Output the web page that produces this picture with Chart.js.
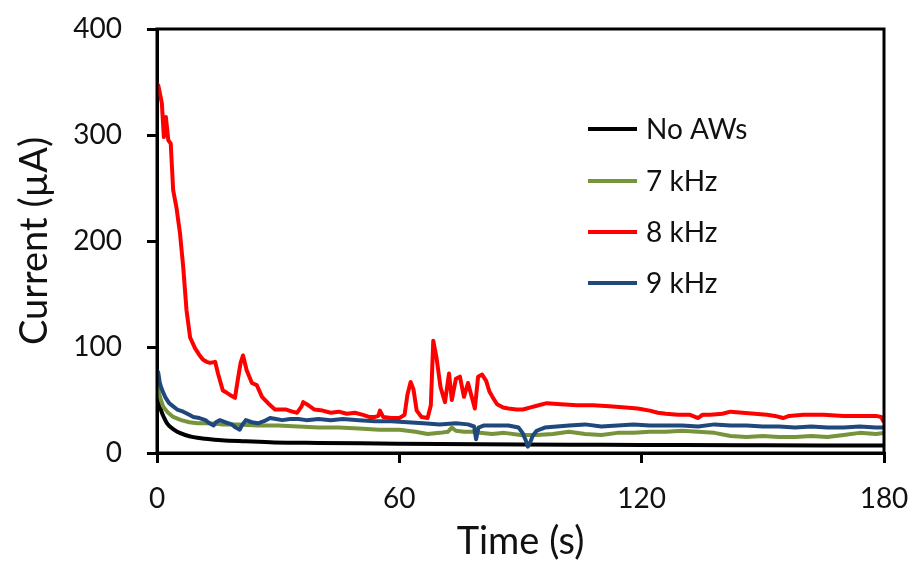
<!DOCTYPE html>
<html>
<head>
<meta charset="utf-8">
<title>Current vs time</title>
<script src="https://cdn.jsdelivr.net/npm/chart.js@4.4.1/dist/chart.umd.min.js"></script>
<style>
  html, body { margin: 0; padding: 0; background: #fff; }
  #wrap { width: 917px; height: 565px; }
</style>
</head>
<body>
<div id="wrap"><canvas id="currentChart" width="917" height="565"></canvas></div>
<script>
// series labels (legend order)
var seriesNames = ['No AWs', '7 kHz', '8 kHz', '9 kHz'];
var seriesColors = ['#000000', '#77933C', '#FF0000', '#1F497D'];

// axis ticks
var timeTicks = [0, 60, 120, 180];
var currentTicks = [0, 100, 200, 300, 400];

// No AWs
var noAwT = [0, 0.3, 0.7, 1.2, 1.8, 2.5, 3.5, 5, 7, 9, 12, 16, 22, 29, 40, 55, 70, 90, 110, 130, 150, 180];
var noAwI = [58, 53, 45, 38, 33, 28, 24, 20, 17, 15, 13.5, 12, 11, 10, 9.5, 9, 8.5, 8, 7.8, 7.5, 7.3, 7];

// 7 kHz
var k7T = [
  0, 0.3, 0.8, 1.5, 2.5, 4, 6, 8, 10, 13,
  16, 20, 25, 30, 35, 40, 45, 50, 55, 60,
  64, 67, 70, 72, 73, 74, 76, 78, 80, 83,
  86, 90, 94, 98, 102, 106, 110, 114, 118, 122,
  126, 130, 134, 138, 142, 146, 150, 154, 158, 162,
  166, 170, 174, 178, 180
];
var k7I = [
  64, 60, 52, 44, 39, 34, 31, 29, 28, 28,
  27, 27, 26, 26, 25, 24, 24, 23, 22, 22,
  20, 18, 19, 20, 24, 21, 20, 20, 19, 18,
  19, 17, 17, 18, 20, 18, 17, 19, 19, 20,
  20, 21, 20, 19, 16, 15, 16, 15, 15, 16,
  15, 17, 19, 18, 19
];

// 8 kHz
var k8T = [
  0, 0.3, 1.2, 1.7, 2.2, 2.8, 3.4, 4.0, 4.8, 5.7,
  6.5, 7.3, 8.2, 9.4, 10.4, 11.4, 12.3, 13.1, 14.4, 15.1,
  16.3, 17.2, 18, 19.3, 20, 20.7, 21.3, 22.2, 23.5, 24.7,
  26, 27.5, 29.2, 30.5, 32, 33.5, 34.7, 35.8, 36.2, 37.5,
  39, 41, 43, 45, 47, 49, 51, 52.5, 54, 54.8,
  55.2, 56, 58, 60, 61.3, 62, 62.8, 63.5, 64.3, 65.5,
  67, 67.8, 68.4, 69.2, 70.2, 71.3, 72.3, 73.0, 74.0, 75.0,
  76.0, 77.0, 78.7, 79.5, 80.5, 81.5, 82.3, 83.2, 84.2, 85.7,
  87, 89, 90.6, 92.5, 94.5, 96.5, 100, 104, 108, 112,
  116, 119, 122, 124, 126, 129, 132, 134, 135, 137,
  140, 142, 145, 148, 151, 153, 155, 156.5, 160, 165,
  170, 175, 178, 179.3, 180
];
var k8I = [
  348, 347, 330, 298, 317, 295, 292, 248, 232, 207,
  175, 135, 109, 99, 93, 88, 86, 85, 86, 75,
  59, 57, 55, 52, 69, 85, 92, 78, 66, 64,
  53, 47, 41, 41, 41, 39, 38, 44, 48, 45,
  41, 40, 38, 39, 37, 38, 36, 34, 34, 35,
  40, 34, 33, 33, 36, 55, 67, 60, 40, 34,
  33, 45, 106, 90, 62, 48, 75, 50, 70, 72,
  53, 66, 42, 72, 74, 68, 58, 52, 46, 43,
  42, 41, 41, 43, 45, 47, 46, 45, 45, 44,
  43, 42, 40, 38, 37, 36, 36, 33, 36, 36,
  37, 39, 38, 37, 36, 35, 33, 35, 36, 36,
  35, 35, 35, 34, 29
];

// 9 kHz
var k9T = [
  0, 0.3, 0.7, 1.2, 2, 3, 4, 5, 6.5, 8,
  9, 10.5, 12, 13, 14, 14.6, 15.6, 17, 18.5, 19.5,
  20.5, 21, 22, 23.5, 25, 26.5, 28, 29.5, 31, 33,
  35, 37, 40, 43, 46, 50, 54, 58, 62, 66,
  70, 74, 77, 78.5, 79, 79.6, 81, 84, 87, 89.5,
  90.5, 91.3, 91.8, 92.4, 93, 94, 96, 99, 102, 106,
  110, 114, 118, 122, 126, 130, 134, 138, 142, 146,
  150, 154, 158, 162, 166, 170, 174, 178, 180
];
var k9I = [
  78, 76, 66, 60, 53, 47, 44, 41, 39, 36,
  34, 33, 31, 28, 26, 29, 31, 29, 27, 24,
  22, 26, 31, 29, 28, 30, 33, 32, 31, 32,
  32, 31, 32, 31, 32, 31, 30, 30, 29, 28,
  27, 28, 27, 25, 13, 24, 26, 26, 26, 24,
  19, 12, 6, 10, 16, 21, 24, 25, 26, 27,
  25, 26, 27, 26, 26, 26, 25, 27, 26, 26,
  25, 25, 24, 25, 24, 24, 25, 24, 24
];

function pairs(t, v) {
  var out = [];
  for (var i = 0; i < t.length; i++) {
    out.push({ x: t[i], y: v[i] });
  }
  return out;
}

var seriesData = [pairs(noAwT, noAwI), pairs(k7T, k7I), pairs(k8T, k8I), pairs(k9T, k9I)];

Chart.defaults.font.family = 'Lato, "Open Sans", sans-serif';
Chart.defaults.color = '#111';

// box round the plot area
var frame = {
  id: 'frame',
  afterDatasetsDraw: function (chart) {
    var a = chart.chartArea, ctx = chart.ctx;
    ctx.save();
    ctx.strokeStyle = '#000';
    ctx.lineWidth = 3;
    ctx.strokeRect(a.left, a.top, a.right - a.left, a.bottom - a.top);
    ctx.restore();
  }
};

// legend sitting inside the plot
var insideLegend = {
  id: 'insideLegend',
  afterDraw: function (chart) {
    var ctx = chart.ctx;
    var rows = [129, 181, 232, 283];
    ctx.save();
    ctx.font = '28px Lato, "Open Sans", sans-serif';
    ctx.textBaseline = 'middle';
    ctx.fillStyle = '#111';
    chart.data.datasets.forEach(function (ds, i) {
      ctx.strokeStyle = ds.borderColor;
      ctx.lineWidth = 4;
      ctx.beginPath();
      ctx.moveTo(588, rows[i]);
      ctx.lineTo(637, rows[i]);
      ctx.stroke();
      ctx.fillText(ds.label, 646, rows[i] + 1);
    });
    ctx.restore();
  }
};

var datasets = seriesNames.map(function (name, i) {
  return {
    label: name,
    data: seriesData[i],
    borderColor: seriesColors[i],
    backgroundColor: seriesColors[i],
    borderWidth: 4,
    pointRadius: 0,
    fill: false,
    tension: 0,
    cubicInterpolationMode: i === 0 ? 'monotone' : 'default',
    borderJoinStyle: 'round',
    order: 4 - i
  };
});

var ctx = document.getElementById('currentChart').getContext('2d');
var chart = new Chart(ctx, {
  type: 'line',
  data: { datasets: datasets },
  plugins: [frame, insideLegend],
  options: {
    responsive: false,
    animation: false,
    layout: { padding: { top: 29, right: 33, bottom: 0, left: 0 } },
    plugins: {
      legend: { display: false },
      tooltip: { enabled: false }
    },
    scales: {
      x: {
        type: 'linear',
        min: 0,
        max: 180,
        afterFit: function (scale) {
          scale.height = 112;
          scale.paddingLeft = 0;
          scale.paddingRight = 0;
        },
        afterBuildTicks: function (scale) {
          scale.ticks = timeTicks.map(function (v) { return { value: v }; });
        },
        border: { color: '#000', width: 3 },
        grid: { drawOnChartArea: false, drawTicks: true, tickLength: 10, color: '#000', lineWidth: 3 },
        ticks: { font: { size: 28 }, padding: 19, maxRotation: 0, color: '#111' },
        title: { display: true, text: 'Time (s)', font: { size: 38 }, padding: { top: 0, bottom: 0 }, color: '#111' }
      },
      y: {
        min: 0,
        max: 400,
        afterFit: function (scale) {
          scale.width = 157;
          scale.paddingTop = 0;
          scale.paddingBottom = 0;
        },
        afterBuildTicks: function (scale) {
          scale.ticks = currentTicks.map(function (v) { return { value: v }; });
        },
        border: { color: '#000', width: 3 },
        grid: { drawOnChartArea: false, drawTicks: true, tickLength: 10, color: '#000', lineWidth: 3 },
        ticks: { font: { size: 28 }, padding: 25, color: '#111' },
        title: { display: true, text: 'Current (µA)', font: { size: 38 }, padding: { top: 12, bottom: 0 }, color: '#111' }
      }
    }
  }
});
</script>
</body>
</html>
